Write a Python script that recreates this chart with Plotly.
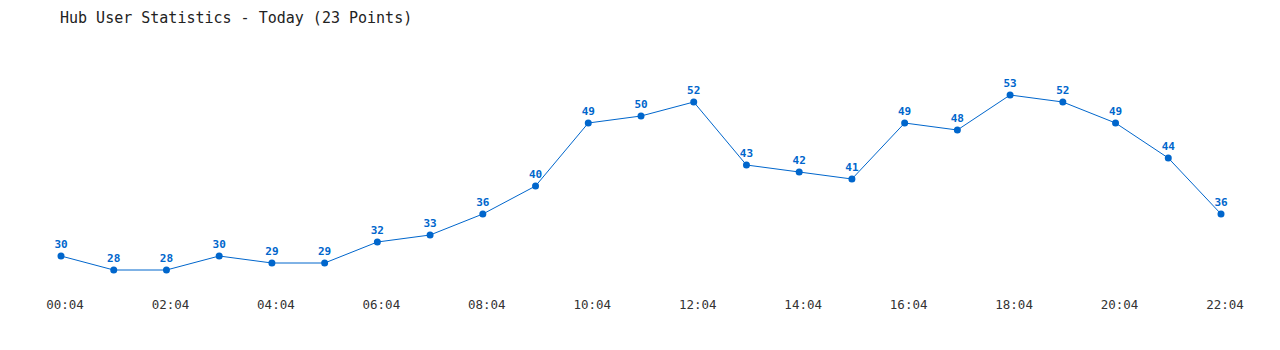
import plotly.graph_objects as go

times = [f"{h:02d}:04" for h in range(23)]
users = [30, 28, 28, 30, 29, 29, 32, 33, 36, 40, 49, 50, 52, 43, 42, 41, 49, 48, 53, 52, 49, 44, 36]
tick_labels = times[::2]

mono = "DejaVu Sans Mono"
blue = "#0066cc"

fig = go.Figure(go.Scatter(
    x=list(range(len(times))), y=users,
    mode="lines+markers+text",
    line=dict(color=blue, width=1),
    marker=dict(color=blue, size=7),
    text=[str(v) for v in users],
    textposition="top center",
    textfont=dict(family=mono, size=11, color=blue, weight="bold"),
    cliponaxis=False,
    hoverinfo="x+y",
))

top, bottom = 40, 290
ymax = 30 + (256 - top) / 7
ymin = 30 - (bottom - 256) / 7

fig.update_layout(
    width=1280, height=350,
    margin=dict(l=61, r=59, t=top, b=350 - bottom),
    paper_bgcolor="white", plot_bgcolor="white",
    showlegend=False,
    title=dict(text="Hub User Statistics - Today (23 Points)", x=60 / 1280, xanchor="left",
               y=1 - 18 / 350, yanchor="middle",
               font=dict(family=mono, size=15, color="#222")),
    xaxis=dict(range=[0, 22], tickvals=list(range(0, 23, 2)), ticktext=tick_labels,
               showgrid=False, zeroline=False, showline=False, ticks="",
               ticklabelshift=4, ticklabelstandoff=5,
               tickfont=dict(family=mono, size=12.5, color="#333")),
    yaxis=dict(range=[ymin, ymax], visible=False),
)

fig.write_html("out.html")
